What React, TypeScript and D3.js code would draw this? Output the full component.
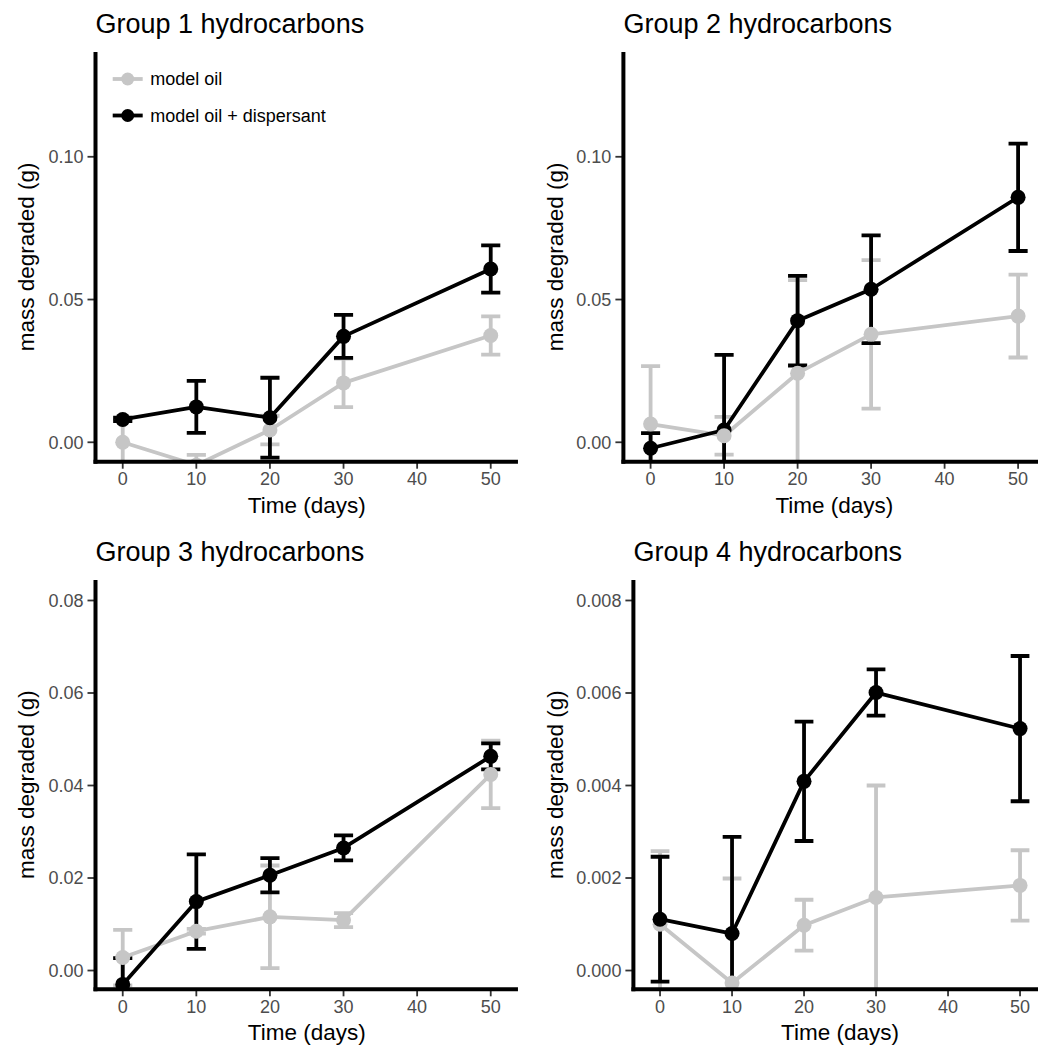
import React from 'react';
import * as d3 from 'd3';

// sampling days
const DAYS = [0, 10, 20, 30, 50];
const X_TICKS = [0, 10, 20, 30, 40, 50];

// Group 1: mean mass degraded (g) and error
const G1_OIL = [0.0, -0.008, 0.0043, 0.0208, 0.0374];
const G1_OIL_ERR = [0.008, 0.0036, 0.005, 0.0085, 0.0067];
const G1_DISP = [0.008, 0.0124, 0.0086, 0.0371, 0.0607];
const G1_DISP_ERR = [0.0006, 0.0091, 0.014, 0.0075, 0.0083];

// Group 2
const G2_OIL = [0.0064, 0.0023, 0.0242, 0.0378, 0.0442];
const G2_OIL_ERR = [0.0203, 0.0066, 0.0326, 0.026, 0.0145];
const G2_DISP = [-0.0021, 0.0043, 0.0426, 0.0536, 0.0858];
const G2_DISP_ERR = [0.0053, 0.0263, 0.0157, 0.0189, 0.0188];

// Group 3
const G3_OIL = [0.0028, 0.0085, 0.0116, 0.0109, 0.0424];
const G3_OIL_ERR = [0.006, 0.0005, 0.0111, 0.0015, 0.0073];
const G3_DISP = [-0.003, 0.0149, 0.0206, 0.0265, 0.0463];
const G3_DISP_ERR = [0.0057, 0.0102, 0.0037, 0.0027, 0.0028];

// Group 4
const G4_OIL = [0.001, -0.00027, 0.00098, 0.00158, 0.00184];
const G4_OIL_ERR = [0.00158, 0.00226, 0.00055, 0.00242, 0.00076];
const G4_DISP = [0.00111, 0.0008, 0.00409, 0.00601, 0.00523];
const G4_DISP_ERR = [0.00135, 0.00209, 0.00129, 0.0005, 0.00157];

const Y_TICKS_12 = [0, 0.05, 0.1];
const Y_TICKS_3 = [0, 0.02, 0.04, 0.06, 0.08];
const Y_TICKS_4 = [0, 0.002, 0.004, 0.006, 0.008];

const LEGEND_LABELS = ['model oil', 'model oil + dispersant'];

const GREY = '#c6c6c6';
const BLACK = '#000000';
const FONT = '"Liberation Sans", Arial, Helvetica, sans-serif';

const panels = [
  { title: 'Group 1 hydrocarbons', oil: G1_OIL, oilErr: G1_OIL_ERR, disp: G1_DISP, dispErr: G1_DISP_ERR,
    yTicks: Y_TICKS_12, fmt: '.2f', yDomain: [-0.0068, 0.1367],
    left: 95.5, kx: 7.36, top: 52, bottom: 461.7, yTitleX: 34, legend: true, greyOnTop: false },
  { title: 'Group 2 hydrocarbons', oil: G2_OIL, oilErr: G2_OIL_ERR, disp: G2_DISP, dispErr: G2_DISP_ERR,
    yTicks: Y_TICKS_12, fmt: '.2f', yDomain: [-0.0068, 0.1367],
    left: 623.4, kx: 7.35, top: 52, bottom: 461.7, yTitleX: 563, legend: false, greyOnTop: true },
  { title: 'Group 3 hydrocarbons', oil: G3_OIL, oilErr: G3_OIL_ERR, disp: G3_DISP, dispErr: G3_DISP_ERR,
    yTicks: Y_TICKS_3, fmt: '.2f', yDomain: [-0.00406, 0.08443],
    left: 95.5, kx: 7.36, top: 580, bottom: 989.3, yTitleX: 34, legend: false, greyOnTop: false },
  { title: 'Group 4 hydrocarbons', oil: G4_OIL, oilErr: G4_OIL_ERR, disp: G4_DISP, dispErr: G4_DISP_ERR,
    yTicks: Y_TICKS_4, fmt: '.3f', yDomain: [-0.000406, 0.008443],
    left: 633.4, kx: 7.2, top: 580, bottom: 989.3, yTitleX: 563, legend: false, greyOnTop: false },
];

const X_DOMAIN = [-3.7, 53.7];
const CAP = 1.3; // half cap width in days

function Panel({ p, idx }) {
  const right = p.left + (X_DOMAIN[1] - X_DOMAIN[0]) * p.kx;
  const x = d3.scaleLinear().domain(X_DOMAIN).range([p.left, right]);
  const y = d3.scaleLinear().domain(p.yDomain).range([p.bottom, p.top]);
  const fmt = d3.format(p.fmt);
  const line = d3.line<number>().x((_, i) => x(DAYS[i])).y((v) => y(v));
  const clipId = `clip-${idx}`;

  const series = [
    { key: 'oil', vals: p.oil, err: p.oilErr, color: GREY },
    { key: 'disp', vals: p.disp, err: p.dispErr, color: BLACK },
  ];
  const pointOrder = p.greyOnTop ? [series[1], series[0]] : series;

  return (
    <g>
      <defs>
        <clipPath id={clipId}>
          <rect x={p.left} y={p.top} width={right - p.left} height={p.bottom - p.top} />
        </clipPath>
      </defs>
      <text x={p.left} y={p.top - 19} fontSize={27} fontFamily={FONT} fill="#000">{p.title}</text>

      <g clipPath={`url(#${clipId})`}>
        {series.map((s) => (
          <g key={'e' + s.key} stroke={s.color} strokeWidth={3.8} fill="none">
            {DAYS.map((d, i) => (
              <g key={d}>
                <line x1={x(d)} x2={x(d)} y1={y(s.vals[i] - s.err[i])} y2={y(s.vals[i] + s.err[i])} />
                <line x1={x(d - CAP)} x2={x(d + CAP)} y1={y(s.vals[i] + s.err[i])} y2={y(s.vals[i] + s.err[i])} />
                <line x1={x(d - CAP)} x2={x(d + CAP)} y1={y(s.vals[i] - s.err[i])} y2={y(s.vals[i] - s.err[i])} />
              </g>
            ))}
          </g>
        ))}
        {series.map((s) => (
          <path key={'l' + s.key} d={line(s.vals) || ''} stroke={s.color} strokeWidth={3.8} fill="none" strokeLinejoin="round" />
        ))}
        {pointOrder.map((s) => (
          <g key={'p' + s.key} fill={s.color}>
            {DAYS.map((d, i) => (
              <circle key={d} cx={x(d)} cy={y(s.vals[i])} r={7.5} />
            ))}
          </g>
        ))}
      </g>

      {/* y axis */}
      {p.yTicks.map((t) => (
        <g key={t}>
          <line x1={p.left - 8} x2={p.left} y1={y(t)} y2={y(t)} stroke="#333" strokeWidth={1.8} />
          <text x={p.left - 12} y={y(t)} dy="0.35em" textAnchor="end" fontSize={18} fontFamily={FONT} fill="#4d4d4d">{fmt(t)}</text>
        </g>
      ))}
      {/* x axis */}
      {X_TICKS.map((t) => (
        <g key={t}>
          <line x1={x(t)} x2={x(t)} y1={p.bottom} y2={p.bottom + 7} stroke="#333" strokeWidth={1.8} />
          <text x={x(t)} y={p.bottom + 23.5} textAnchor="middle" fontSize={18} fontFamily={FONT} fill="#4d4d4d">{t}</text>
        </g>
      ))}
      <line x1={p.left} x2={p.left} y1={p.top} y2={p.bottom + 2} stroke="#000" strokeWidth={4} />
      <line x1={p.left - 2} x2={right} y1={p.bottom} y2={p.bottom} stroke="#000" strokeWidth={4} />

      <text x={(p.left + right) / 2} y={p.bottom + 51} textAnchor="middle" fontSize={22.5} fontFamily={FONT} fill="#000">Time (days)</text>
      <text transform={`translate(${p.yTitleX},${(p.top + p.bottom) / 2}) rotate(-90)`} textAnchor="middle" fontSize={22.5} fontFamily={FONT} fill="#000">mass degraded (g)</text>

      {p.legend && (
        <g>
          {[GREY, BLACK].map((c, i) => (
            <g key={c} transform={`translate(127.7,${79 + i * 36.5})`}>
              <line x1={-15} x2={15} y1={0} y2={0} stroke={c} strokeWidth={3.8} />
              <circle r={6.5} fill={c} />
              <text x={22.5} dy="0.35em" fontSize={18} fontFamily={FONT} fill="#000">{LEGEND_LABELS[i]}</text>
            </g>
          ))}
        </g>
      )}
    </g>
  );
}

export default function App() {
  return (
    <svg width={1038} height={1047} style={{ position: 'absolute', left: 0, top: 0, background: '#fff' }}>
      <rect width={1038} height={1047} fill="#fff" />
      {panels.map((p, i) => (
        <Panel key={i} p={p} idx={i} />
      ))}
    </svg>
  );
}
